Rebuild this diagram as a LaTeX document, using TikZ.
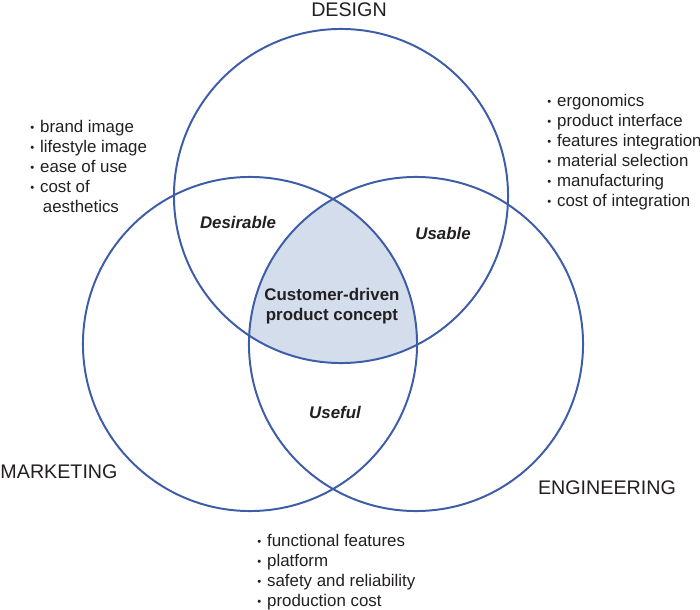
\documentclass[tikz,border=0pt]{standalone}
\usepackage{fontspec}
\setmainfont{Liberation Sans}
\usetikzlibrary{positioning}
\definecolor{vennblue}{HTML}{3D5DA8}
\definecolor{vennfill}{HTML}{D3DDEB}
\definecolor{inktext}{HTML}{231F20}
\newcommand{\bul}{\makebox[7pt][l]{\raisebox{0.4pt}{\footnotesize\textbullet}}}

\begin{document}
\begin{tikzpicture}[x=0.025cm, y=-0.025cm,
  ring/.style={draw=vennblue, line width=1.4pt},
  area/.style={font=\fontsize{14}{16}\selectfont, text=inktext},
  itemlist/.style={align=left, anchor=west, inner sep=0pt, font=\fontsize{12}{14.23}\selectfont, text=inktext},
  quality/.style={font=\fontsize{12}{14.5}\selectfont\bfseries\itshape, text=inktext},
  core/.style={font=\fontsize{12}{14.5}\selectfont\bfseries, text=inktext, align=center}]
  \useasboundingbox (0,0) rectangle (700,610);
  % circle centres
  \coordinate (cdes) at (341,196);
  \coordinate (cmar) at (250,344);
  \coordinate (ceng) at (416,344);
  % shaded common part
  \begin{scope}
    \clip (cdes) circle[radius=4.175cm];
    \clip (cmar) circle[radius=4.175cm];
    \fill[vennfill] (ceng) circle[radius=4.175cm];
  \end{scope}
  \foreach \c in {cdes,cmar,ceng}
    \draw[ring] (\c) circle[radius=4.175cm];

  % discipline names
  \node[area] (design) at (349,10) {DESIGN};
  \node[area] (marketing) at (59,472) {MARKETING};
  \node[area] (engineering) at (607,488) {ENGINEERING};

  % overlaps
  \node[quality] (desirable) at (238,222) {Desirable};
  \node[quality] (usable) at (443,233) {Usable};
  \node[quality] (useful) at (335,412) {Useful};
  \node[core] (concept) at (332,306) {Customer-driven\\product concept};

  % item lists
  \node[itemlist] (marlist) at (30,166) {\bul brand image\\\bul lifestyle image\\\bul ease of use\\\bul cost of\\\hphantom{\bul}\,aesthetics};
  \node[itemlist] (deslist) at (547,152) {\bul ergonomics\\\bul product interface\\\bul features integration\\\bul material selection\\\bul manufacturing\\\bul cost of integration};
  \node[itemlist] (englist) at (257,572) {\bul functional features\\\bul platform\\\bul safety and reliability\\\bul production cost};
\end{tikzpicture}
\end{document}
